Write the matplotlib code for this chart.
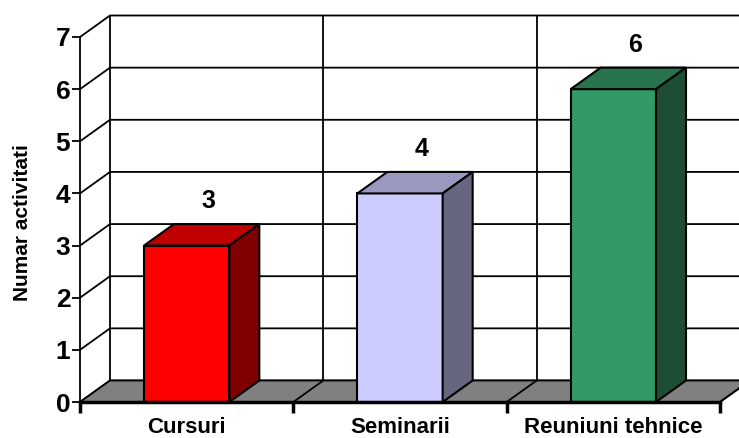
import matplotlib
matplotlib.use("Agg")
import matplotlib.pyplot as plt
from matplotlib.patches import Polygon

plt.rcParams['font.family'] = ['Liberation Sans', 'DejaVu Sans']

categories = ["Cursuri", "Seminarii", "Reuniuni tehnice"]
values = [3, 4, 6]
front_colors = ["#FF0000", "#CCCCFF", "#339966"]
top_colors = ["#BF0000", "#9999C0", "#26734C"]
side_colors = ["#800000", "#666680", "#1D4D33"]
y_ticks = [0, 1, 2, 3, 4, 5, 6, 7]

fig = plt.figure(figsize=(7.39, 4.38), dpi=100)
ax = fig.add_axes([80 / 739, 36 / 438, 640 / 739, 365 / 438])
ax.set_xlim(0, 3)
ax.set_ylim(0, 7)
ax.patch.set_alpha(0)

# depth offset of the 3d box, in data units
dx = 30 / 640 * 3
dy = 21.5 / 365 * 7
n = len(categories)
ymax = y_ticks[-1]

# back wall
ax.add_patch(Polygon([(dx, dy), (n + dx, dy), (n + dx, ymax + dy), (dx, ymax + dy)],
                     closed=True, facecolor="white", edgecolor="none", zorder=0, clip_on=False))
for v in y_ticks:
    ax.plot([0, dx, n + dx], [v, v + dy, v + dy], color="black", lw=1.3, zorder=1, clip_on=False)
for k in range(n):
    ax.plot([k + dx, k + dx], [dy, ymax + dy], color="black", lw=1.3, zorder=1, clip_on=False)

# floor
ax.add_patch(Polygon([(0, 0), (n, 0), (n + dx, dy), (dx, dy)], closed=True,
                     facecolor="#808080", edgecolor="black", lw=1.3, zorder=2, clip_on=False))
for k in range(1, n + 1):
    ax.plot([k, k + dx], [0, dy], color="black", lw=1.3, zorder=2, clip_on=False)

# 3d bars
w = 0.4
for i, v in enumerate(values):
    x0 = i + 0.5 - w / 2
    x1 = i + 0.5 + w / 2
    ax.add_patch(Polygon([(x0, 0), (x1, 0), (x1, v), (x0, v)], closed=True,
                         facecolor=front_colors[i], edgecolor="black", lw=1.5, zorder=4, clip_on=False))
    ax.add_patch(Polygon([(x0, v), (x1, v), (x1 + dx, v + dy), (x0 + dx, v + dy)], closed=True,
                         facecolor=top_colors[i], edgecolor="black", lw=1.5, zorder=4, clip_on=False))
    ax.add_patch(Polygon([(x1, 0), (x1 + dx, dy), (x1 + dx, v + dy), (x1, v)], closed=True,
                         facecolor=side_colors[i], edgecolor="black", lw=1.5, zorder=4, clip_on=False))
    ax.text(i + 0.5 + 0.1, v + 0.85, str(v), ha="center", va="center",
            fontsize=18, fontweight="bold", zorder=5)

# axes
for s in ["top", "right"]:
    ax.spines[s].set_visible(False)
ax.spines["left"].set_linewidth(1.3)
ax.spines["bottom"].set_linewidth(2.5)
ax.spines["left"].set_zorder(6)
ax.spines["bottom"].set_zorder(6)

ax.set_yticks(y_ticks)
ax.set_yticklabels([str(t) for t in y_ticks], fontsize=19, fontweight="bold")
ax.tick_params(axis="y", direction="out", length=6, width=1.3, pad=1)

ax.set_xticks(range(n + 1))
ax.set_xticklabels([])
ax.tick_params(axis="x", which="major", direction="out", length=8, width=2.5)
ax.set_xticks([i + 0.5 for i in range(n)], minor=True)
ax.set_xticklabels(categories, minor=True, fontsize=16, fontweight="bold")
ax.tick_params(axis="x", which="minor", length=0, pad=11)

fig.text(23 / 739, 1 - 223 / 438, "Numar activitati", rotation=90, ha="center", va="center",
         fontsize=15, fontweight="bold")

fig.savefig("out.png", dpi=100)
